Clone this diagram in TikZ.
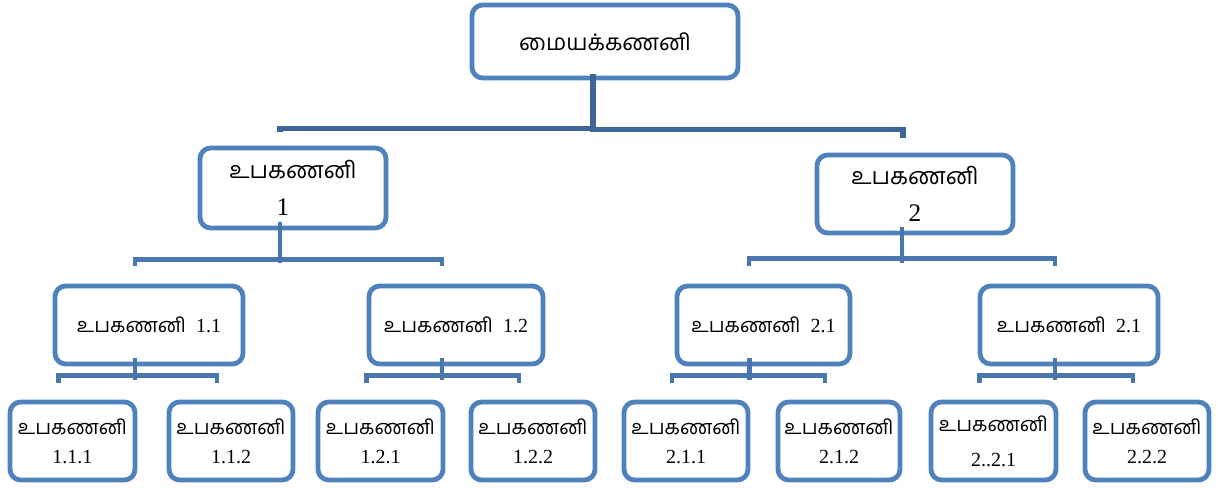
\documentclass[tikz,border=0pt]{standalone}
\usepackage{fontspec}
\setmainfont{Liberation Serif}
\newfontfamily\tamil[Script=Tamil]{Hind Madurai}
\usetikzlibrary{calc}
\definecolor{boxblue}{HTML}{4F81BD}
\definecolor{linkblue}{HTML}{4A76AE}
\definecolor{rootblue}{HTML}{3F6598}
\begin{document}
\begin{tikzpicture}[x=0.75pt,y=-0.75pt,
  box/.style={draw=boxblue, line width=3.6pt, rounded corners=8pt, fill=white,
              align=center, inner sep=0pt},
  sz/.style 2 args={minimum width=#1*0.75pt, minimum height=#2*0.75pt},
  leaf/.style={box, sz={125}{78}, font=\fontsize{15}{22}\selectfont},
  mid/.style={box, sz={180}{78}, font=\fontsize{15}{18}\selectfont},
  link/.style={draw=linkblue, line width=3.6pt},
  rootlink/.style={draw=rootblue, line width=4.3pt}]
\useasboundingbox (0,0) rectangle (1218,488);

% root
\node[box, sz={266}{73}, font=\fontsize{17}{24}\selectfont] (root) at (605,41.5) {\tamil மையக்கணனி};

% first level
\node[box, sz={186}{80}, font=\fontsize{19}{28}\selectfont] (s1) at (293,188)
  {{\tamil\fontsize{17.5}{20}\selectfont உபகணனி}\\1\hspace*{15pt}};
\node[box, sz={196}{78}, font=\fontsize{19}{28}\selectfont] (s2) at (915,194)
  {{\tamil\fontsize{17.5}{20}\selectfont உபகணனி}\\2};

% second level
\node[mid, sz={188}{78}] (s11) at (149,325) {{\tamil உபகணனி}\ \ 1.1};
\node[mid, sz={174}{78}] (s12) at (456,325) {{\tamil உபகணனி}\ \ 1.2};
\node[mid, sz={173}{78}] (s21) at (763.5,325) {{\tamil உபகணனி}\ \ 2.1};
\node[mid, sz={178}{78}] (s22) at (1069,325) {{\tamil உபகணனி}\ \ 2.1};

% third level
\node[leaf] (s111) at (72.5,441) {{\tamil உபகணனி}\\1.1.1};
\node[leaf, sz={124}{78}] (s112) at (231,441) {{\tamil உபகணனி}\\1.1.2};
\node[leaf] (s121) at (380.5,441) {{\tamil உபகணனி}\\1.2.1};
\node[leaf, sz={124}{78}] (s122) at (533,441) {{\tamil உபகணனி}\\1.2.2};
\node[leaf, sz={124}{78}] (s211) at (686,441) {{\tamil உபகணனி}\\2.1.1};
\node[leaf, sz={122}{78}] (s212) at (839,441) {{\tamil உபகணனி}\\2.1.2};
\node[leaf, font=\fontsize{15}{26}\selectfont] (s221) at (993.5,441) {{\tamil உபகணனி}\\2..2.1};
\node[leaf, sz={124}{78}] (s222) at (1147,441) {{\tamil உபகணனி}\\2.2.2};

% root connectors
\draw[rootlink] ($(root.south)+(-12,-6)$) |- ($(s2.north)+(-12,-23)$) -- ++(0,8);
\draw[rootlink] ($(s1.north)+(-13,-14)$) |- ($(root.south)+(-12,48)$);

% first level connectors
\draw[link] ($(s1.south)+(-13,-8)$) -- ($(s1.south)+(-13,33)$);
\draw[link] ($(s11.north)+(-14,-18)$) |- ($(s12.north)+(-14,-24)$) -- ++(0,6);
\draw[link] ($(s2.south)+(-13,-8)$) -- ($(s2.south)+(-13,28)$);
\draw[link] ($(s21.north)+(-14.5,-18)$) |- ($(s22.north)+(-14,-25)$) -- ++(0,7);

% second level connectors
\foreach \p/\a/\b in {s11/s111/s112, s12/s121/s122, s21/s211/s212, s22/s221/s222} {
  \draw[link] ($(\p.south)+(-14,-8)$) -- ($(\p.south)+(-14,14)$);
  \draw[link] ($(\a.north)+(-14,-17)$) |- ($(\b.north)+(-14,-24)$) -- ++(0,7);
}
\end{tikzpicture}
\end{document}
